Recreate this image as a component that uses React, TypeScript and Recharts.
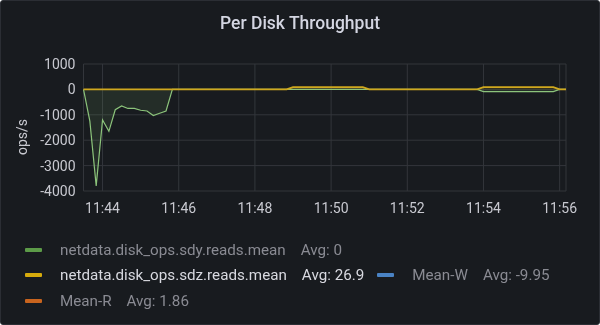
import { Area, CartesianGrid, ComposedChart, XAxis, YAxis } from "recharts"

// sample times (10s resolution, only where the values change)
const times = [
  "11:43:30", "11:43:40", "11:43:50", "11:44:00", "11:44:10", "11:44:20", "11:44:30",
  "11:44:40", "11:44:50", "11:45:00", "11:45:10", "11:45:20", "11:45:30", "11:45:40",
  "11:45:50", "11:48:50", "11:49:00", "11:50:50", "11:51:00", "11:53:50", "11:54:00",
  "11:55:50", "11:56:00", "11:56:10",
]
const sdyReads = [
  0, -1250, -3800, -1200, -1650, -800, -650,
  -750, -750, -820, -850, -1030, -940, -850,
  0, 0, 0, 0, 0, 0, -90,
  -90, 0, 0,
]
const sdzReads = [
  0, 0, 0, 0, 0, 0, 0,
  0, 0, 0, 0, 0, 0, 0,
  0, 0, 90, 90, 0, 0, 90,
  90, 0, 0,
]
const xTickLabels = ["11:44", "11:46", "11:48", "11:50", "11:52", "11:54", "11:56"]
const yTicks = [1000, 0, -1000, -2000, -3000, -4000]

const legendNames = ["netdata.disk_ops.sdy.reads.mean", "netdata.disk_ops.sdz.reads.mean", "Mean-W", "Mean-R"]
const legendAvgs = ["0", "26.9", "-9.95", "1.86"]
const legendColors = ["#5c9b48", "#d6ab0c", "#4a83c4", "#c8641e"]
const legendBright = [false, true, false, false]

const toSec = (t: string) => {
  const [h, m, s] = t.split(":").map(Number)
  return h * 3600 + m * 60 + (s || 0)
}
const fmt = (v: number) => {
  const h = Math.floor(v / 3600)
  const m = Math.floor((v % 3600) / 60)
  return `${h}:${String(m).padStart(2, "0")}`
}

const data = times.map((t, i) => ({ t: toSec(t), sdy: sdyReads[i], sdz: sdzReads[i] }))

const font = "Roboto, 'Noto Sans', sans-serif"
const tickStyle = { fill: "#c8c9d0", fontSize: 14, fontFamily: font }

export default function App() {
  return (
    <div
      style={{
        position: "fixed",
        left: 0,
        top: 0,
        width: 598,
        height: 323,
        background: "#181b1f",
        border: "1px solid #2b2e34",
        borderRadius: 3,
        fontFamily: font,
        overflow: "hidden",
      }}
    >
      <div
        style={{
          position: "absolute",
          top: 11,
          left: 0,
          width: 598,
          textAlign: "center",
          fontSize: 17.5,
          lineHeight: "22px",
          fontWeight: 500,
          color: "#d4d6e2",
        }}
      >
        Per Disk Throughput
      </div>
      <div
        style={{
          position: "absolute",
          left: 21,
          top: 136,
          transform: "translate(-50%, -50%) rotate(-90deg)",
          fontSize: 14,
          color: "#c8c9d0",
          whiteSpace: "nowrap",
        }}
      >
        ops/s
      </div>
      <div style={{ position: "absolute", left: -1, top: -1 }}>
        <ComposedChart width={600} height={325} data={data} margin={{ top: 64, right: 34, bottom: 114, left: 0 }}>
          <CartesianGrid stroke="#33363b" />
          <XAxis
            dataKey="t"
            type="number"
            domain={[toSec(times[0]), toSec(times[times.length - 1])]}
            ticks={xTickLabels.map(toSec)}
            tickFormatter={fmt}
            tick={tickStyle}
            tickLine={false}
            axisLine={false}
            tickMargin={6}
            height={20}
            interval={0}
          />
          <YAxis
            type="number"
            domain={[-4000, 1000]}
            ticks={yTicks}
            tick={tickStyle}
            tickLine={false}
            axisLine={false}
            width={83.5}
            interval={0}
          />
          <Area
            type="linear"
            dataKey="sdy"
            stroke="#8cc47b"
            strokeWidth={1.2}
            fill="#7eb26d"
            fillOpacity={0.12}
            isAnimationActive={false}
            dot={false}
            activeDot={false}
          />
          <Area
            type="linear"
            dataKey="sdz"
            stroke="#cfa81e"
            strokeWidth={1.8}
            fill="#e0b400"
            fillOpacity={0.12}
            isAnimationActive={false}
            dot={false}
            activeDot={false}
          />
        </ComposedChart>
      </div>
      <div
        style={{
          position: "absolute",
          left: 24,
          top: 236,
          width: 570,
          display: "flex",
          flexWrap: "wrap",
          columnGap: 13,
          fontSize: 15.2,
        }}
      >
        {legendNames.map((name, i) => (
          <div key={name} style={{ display: "flex", alignItems: "center", height: 25.5, whiteSpace: "nowrap" }}>
            <span style={{ width: 17, height: 4, background: legendColors[i], borderRadius: 1, marginRight: 18 }} />
            <span style={{ color: legendBright[i] ? "#d8d9e0" : "#8a8b93", marginRight: 15 }}>{name}</span>
            <span style={{ color: legendBright[i] ? "#d8d9e0" : "#8a8b93" }}>Avg: {legendAvgs[i]}</span>
          </div>
        ))}
      </div>
    </div>
  )
}
